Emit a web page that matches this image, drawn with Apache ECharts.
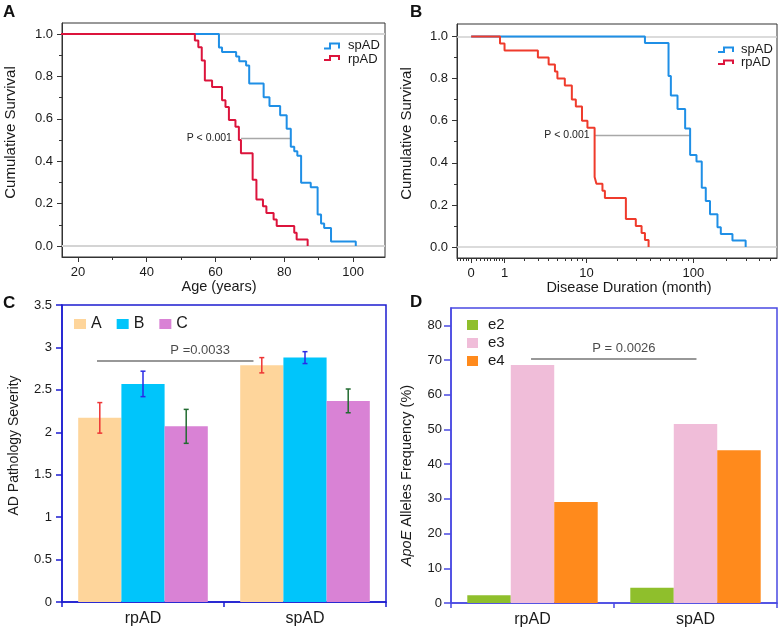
<!DOCTYPE html>
<html><head><meta charset="utf-8">
<script src="https://cdn.jsdelivr.net/npm/echarts@6/dist/echarts.min.js"></script>
<style>html,body{margin:0;padding:0;background:#fff}#c{width:778px;height:630px}</style>
</head><body><div id="c"></div>
<script>
// ---------- Panel A: survival by age ----------
const ageSpAD = [10, 61.0, 61.9, 66.0, 66.9, 68.9, 69.8, 74.0, 75.7, 78.8, 80.7, 81.9, 82.9, 83.8, 84.9, 87.7, 89.7, 90.7, 91.6, 93.6, 100.8];
const survAgeSpAD = [1, 0.936, 0.915, 0.894, 0.872, 0.851, 0.766, 0.702, 0.660, 0.617, 0.553, 0.468, 0.447, 0.426, 0.298, 0.277, 0.149, 0.106, 0.085, 0.021, 0];
const ageRpAD = [10, 54.0, 55.0, 56.0, 56.9, 59.0, 61.9, 62.9, 63.9, 65.8, 66.8, 67.4, 70.8, 71.9, 73.8, 74.8, 76.9, 77.8, 82.9, 83.6, 86.8];
const survAgeRpAD = [1, 0.969, 0.938, 0.875, 0.781, 0.750, 0.688, 0.656, 0.594, 0.5625, 0.5, 0.4375, 0.3125, 0.219, 0.1875, 0.156, 0.125, 0.094, 0.0625, 0.031, 0];
const ageTicks = [20, 40, 60, 80, 100];
const ageMinorTicks = [30, 50, 70, 90];
const survTicks = [0, 0.2, 0.4, 0.6, 0.8, 1.0];
const survMinorTicks = [0.1, 0.3, 0.5, 0.7, 0.9];
const pAgeLine = [67.4, 81.9, 0.508];

// ---------- Panel B: survival by disease duration (months) ----------
const durSpAD = [0, 36.0, 59.4, 62.4, 71.8, 84.3, 93.6, 107, 119.5, 130, 142, 166, 178, 227, 299];
const survDurSpAD = [1, 0.969, 0.8125, 0.719, 0.656, 0.5625, 0.4375, 0.406, 0.281, 0.219, 0.156, 0.094, 0.0625, 0.031, 0];
const durRpAD = [0, 0.82, 1.0, 3.0, 4.0, 4.7, 5.0, 6.0, 7.1, 7.8, 9.0, 10.2, 12.0, 12.5, 14.3, 15.1, 23.9, 29.6, 33.5, 36.0, 38.9];
const survDurRpAD = [1, 0.967, 0.933, 0.9, 0.867, 0.833, 0.8, 0.767, 0.7, 0.667, 0.6, 0.567, 0.333, 0.3, 0.267, 0.233, 0.133, 0.1, 0.067, 0.033, 0];
const durTicks = [0, 1, 10, 100];
const durMinorTicks = [-0.25, -0.2, -0.15, -0.1, -0.05, 0.1, 0.2, 0.3, 0.4, 0.5, 0.6, 0.7, 0.8, 0.9, 2, 3, 4, 5, 6, 7, 8, 9, 20, 30, 40, 50, 60, 70, 80, 90, 200, 300, 400, 500];
const pDurLine = [12.0, 93.6, 0.53];

// ---------- Panel C: AD pathology severity ----------
const groups = ['rpAD', 'spAD'];
const sevA = [2.17, 2.79];
const sevB = [2.57, 2.88];
const sevC = [2.07, 2.37];
const errA = [0.18, 0.09];
const errB = [0.15, 0.07];
const errC = [0.20, 0.14];
const sevTicks = [0, 0.5, 1, 1.5, 2, 2.5, 3, 3.5];

// ---------- Panel D: ApoE allele frequency ----------
const e2 = [2.2, 4.4];
const e3 = [68.6, 51.6];
const e4 = [29.1, 44.0];
const freqTicks = [0, 10, 20, 30, 40, 50, 60, 70, 80];

const FONT = "'Liberation Sans', Arial, Helvetica, sans-serif";
const TXT = '#1a1a1a';
const BLUE = '#1f8fe6', RED = '#dc143c', REDB = '#ef3b2c';
const FRAME_C = '#1c1cd0', FRAME_D = '#4a4ae2';
const tB = v => Math.log10(v + 1);
const pairs = (xs, ys, f) => xs.map((x, i) => [f ? f(x) : x, ys[i]]);

const chart = echarts.init(document.getElementById('c'), null, {renderer: 'canvas'});

function kmX(grid, min, max, major, minor, name, nameGap, namePad, fmt) {
  return [
    {gridIndex: grid, type: 'value', min, max, position: 'bottom',
     axisLine: {show: true, onZero: false, lineStyle: {color: '#333', width: 1}},
     axisTick: {show: true, customValues: major, length: 5, lineStyle: {color: '#333'}},
     axisLabel: {customValues: major, fontSize: 13, color: TXT, margin: 9, formatter: fmt},
     splitLine: {show: false},
     name, nameLocation: 'middle', nameGap, nameTextStyle: {fontSize: 14.5, color: TXT, padding: namePad}},
    {gridIndex: grid, type: 'value', min, max, position: 'bottom',
     axisLine: {show: false, onZero: false},
     axisTick: {show: true, customValues: minor, length: 3, lineStyle: {color: '#333'}},
     axisLabel: {show: false}, splitLine: {show: false}}
  ];
}
function kmY(grid, min, max, nameGap) {
  return [
    {gridIndex: grid, type: 'value', min, max, position: 'left',
     axisLine: {show: true, onZero: false, lineStyle: {color: '#333', width: 1}},
     axisTick: {show: true, customValues: survTicks, length: 5, lineStyle: {color: '#333'}},
     axisLabel: {customValues: survTicks, fontSize: 13, color: TXT, margin: 9, formatter: v => v.toFixed(1)},
     splitLine: {show: false},
     name: 'Cumulative Survival', nameLocation: 'middle', nameGap,
     nameTextStyle: {fontSize: 15, color: TXT, padding: [0, 0, 0, 15]}},
    {gridIndex: grid, type: 'value', min, max, position: 'left',
     axisLine: {show: false, onZero: false},
     axisTick: {show: true, customValues: survMinorTicks, length: 3, lineStyle: {color: '#333'}},
     axisLabel: {show: false}, splitLine: {show: false}}
  ];
}

const xAxes = [
  ...kmX(0, 15.35, 109.3, ageTicks, ageMinorTicks, 'Age (years)', 21, [0, 9, 0, 0]),
  ...kmX(1, -0.128, 2.76, durTicks.map(tB), durMinorTicks.map(tB), 'Disease Duration (month)', 20, [0, 0, 0, 24],
         v => String(Math.round(Math.pow(10, v) - 1))),
  {gridIndex: 2, type: 'category', data: groups,
   axisLine: {onZero: false, lineStyle: {color: FRAME_C, width: 1.5}},
   axisTick: {show: true, length: 5, lineStyle: {color: FRAME_C, width: 1.5}},
   axisLabel: {fontSize: 16, color: TXT, margin: 9}},
  {gridIndex: 2, type: 'value', min: 0, max: 2, show: false},
  {gridIndex: 3, type: 'category', data: groups,
   axisLine: {onZero: false, lineStyle: {color: FRAME_D, width: 1.5}},
   axisTick: {show: true, length: 5, lineStyle: {color: FRAME_D, width: 1.5}},
   axisLabel: {fontSize: 16, color: TXT, margin: 9}},
  {gridIndex: 3, type: 'value', min: 0, max: 2, show: false}
];
const yAxes = [
  ...kmY(0, -0.052, 1.052, 44),
  ...kmY(1, -0.052, 1.059, 43),
  {gridIndex: 2, type: 'value', min: 0, max: 3.5,
   axisLine: {show: true, onZero: false, lineStyle: {color: FRAME_C, width: 1.5}},
   axisTick: {show: true, customValues: sevTicks, length: 6, lineStyle: {color: FRAME_C, width: 1.5}},
   axisLabel: {customValues: sevTicks, fontSize: 13, color: TXT, margin: 10},
   splitLine: {show: false},
   name: 'AD Pathology Severity', nameLocation: 'middle', nameGap: 41,
   nameTextStyle: {fontSize: 14, color: TXT, padding: [0, 0, 0, 16]}},
  {gridIndex: 3, type: 'value', min: 0, max: 85,
   axisLine: {show: true, onZero: false, lineStyle: {color: FRAME_D, width: 1.5}},
   axisTick: {show: true, customValues: freqTicks, length: 7, lineStyle: {color: FRAME_D, width: 1.5}},
   axisLabel: {customValues: freqTicks, fontSize: 13, color: TXT, margin: 9},
   splitLine: {show: false},
   name: '{i|ApoE} Alleles Frequency (%)', nameLocation: 'middle', nameGap: 37,
   nameTextStyle: {fontSize: 14.5, color: TXT, padding: [0, 40, 0, 0],
                   rich: {i: {fontStyle: 'italic', fontSize: 14.5, color: TXT}}}}
];

function kmSeries(x, y, data, color, markLine) {
  return {type: 'line', xAxisIndex: x, yAxisIndex: y, data, step: 'end', showSymbol: false,
          lineStyle: {color, width: 2}, itemStyle: {color}, z: 3, silent: true, markLine};
}
const refLines = (c, w) => ({silent: true, symbol: ['none', 'none'], z: 1, label: {show: false},
  lineStyle: {color: c, width: w, type: 'solid'}, data: [{yAxis: 1}, {yAxis: 0}]});
const pLine = (p, text, dist) => ({silent: true, symbol: ['none', 'none'], z: 1,
  lineStyle: {color: '#a8a8a8', width: 1.3, type: 'solid'},
  label: {show: true, position: 'start', formatter: text, fontSize: 10.5, color: '#222', distance: dist},
  data: [[{coord: [p[0], p[2]]}, {coord: [p[1], p[2]]}]]});

function errSeries(means, errs, k, color) {
  return {type: 'custom', xAxisIndex: 4, yAxisIndex: 4, z: 4, silent: true,
    data: means.map((m, i) => [i, m, errs[i]]),
    renderItem: (params, api) => {
      const i = api.value(0), m = api.value(1), e = api.value(2);
      const band = api.size([1, 0])[0];
      const c = api.coord([i, m]);
      const x = c[0] + (k - 1) * band * 0.8 / 3;
      const yt = api.coord([i, m + e])[1], yb = api.coord([i, m - e])[1];
      const st = {stroke: color, lineWidth: 1.5};
      return {type: 'group', children: [
        {type: 'line', shape: {x1: x, y1: yt, x2: x, y2: yb}, style: st},
        {type: 'line', shape: {x1: x - 2.5, y1: yt, x2: x + 2.5, y2: yt}, style: st},
        {type: 'line', shape: {x1: x - 2.5, y1: yb, x2: x + 2.5, y2: yb}, style: st}
      ]};
    }};
}
function barSeries(name, data, color, x, y) {
  return {type: 'bar', name, data, xAxisIndex: x, yAxisIndex: y, barGap: '0%', barCategoryGap: '20%',
          itemStyle: {color}, silent: true, z: 2};
}
function pText(x, y, text, xp, yp) {
  return {type: 'scatter', xAxisIndex: x, yAxisIndex: y, data: [[xp, yp]], symbolSize: 1, silent: true,
          itemStyle: {color: 'rgba(0,0,0,0)'},
          label: {show: true, position: 'inside', formatter: text, fontSize: 13, color: TXT}};
}
function pBar(x, y, x1, x2, v) {
  return {type: 'line', xAxisIndex: x, yAxisIndex: y, data: [[x1, v], [x2, v]], showSymbol: false, silent: true,
          lineStyle: {color: '#333', width: 1.2}, z: 3};
}

const series = [
  kmSeries(0, 0, pairs(ageSpAD, survAgeSpAD), BLUE, refLines('#d4d4d4', 2)),
  kmSeries(0, 0, pairs(ageRpAD, survAgeRpAD), RED, pLine(pAgeLine, 'P < 0.001', 9)),
  kmSeries(2, 2, pairs(durSpAD, survDurSpAD, tB), BLUE, refLines('#cfcfcf', 1.5)),
  kmSeries(2, 2, pairs(durRpAD, survDurRpAD, tB), REDB, pLine([tB(pDurLine[0]), tB(pDurLine[1]), pDurLine[2]], 'P < 0.001', 5)),
  barSeries('A', sevA, '#fed59b', 4, 4),
  barSeries('B', sevB, '#00c5fb', 4, 4),
  barSeries('C', sevC, '#d982d5', 4, 4),
  errSeries(sevA, errA, 0, '#ee3535'),
  errSeries(sevB, errB, 1, '#2a2ae6'),
  errSeries(sevC, errC, 2, '#216b30'),
  pBar(5, 4, 0.216, 1.182, 2.84),
  pText(5, 4, 'P =0.0033', 0.853, 2.965),
  barSeries('e2', e2, '#8fbf2c', 6, 5),
  barSeries('e3', e3, '#f0bdd9', 6, 5),
  barSeries('e4', e4, '#ff8a1c', 6, 5),
  pBar(7, 5, 0.491, 1.506, 70.3),
  pText(7, 5, 'P = 0.0026', 1.061, 73.4)
];

const letter = (t, x, y) => ({type: 'text', silent: true, style: {x, y, text: t, fill: '#111',
  font: "bold 17px 'Liberation Sans', Arial, sans-serif", verticalAlign: 'middle'}});
const kmIcon = (x, yLow, yHigh, color) => ({type: 'polyline', silent: true,
  shape: {points: [[x, yLow], [x + 6, yLow], [x + 6, yHigh], [x + 15, yHigh], [x + 15, yLow]]},
  style: {stroke: color, lineWidth: 2, fill: null}});
const lgText = (t, x, y) => ({type: 'text', silent: true, style: {x, y, text: t, fill: TXT,
  font: "13px 'Liberation Sans', Arial, sans-serif", verticalAlign: 'middle'}});

chart.setOption({
  animation: false,
  backgroundColor: '#fff',
  textStyle: {fontFamily: FONT},
  grid: [
    {left: 62, top: 23, width: 323, height: 234, show: true, borderColor: '#333', borderWidth: 1},
    {left: 457, top: 24, width: 320, height: 234, show: true, borderColor: '#333', borderWidth: 1},
    {left: 62, top: 305, width: 324, height: 297, show: true, borderColor: FRAME_C, borderWidth: 1.5},
    {left: 451, top: 308, width: 326, height: 295, show: true, borderColor: FRAME_D, borderWidth: 1.5}
  ],
  xAxis: xAxes,
  yAxis: yAxes,
  legend: [
    {data: ['A', 'B', 'C'], left: 74, top: 316, orient: 'horizontal', itemWidth: 12, itemHeight: 10,
     itemGap: 15, icon: 'rect', padding: 0, selectedMode: false,
     textStyle: {fontSize: 16, color: TXT}},
    {data: ['e2', 'e3', 'e4'], left: 467, top: 317, orient: 'vertical', itemWidth: 11, itemHeight: 10,
     itemGap: 2, icon: 'rect', padding: 0, selectedMode: false,
     textStyle: {fontSize: 15, lineHeight: 16, color: TXT, padding: [0, 0, 0, 5]}}
  ],
  graphic: [
    letter('A', 3, 12), letter('B', 410, 12), letter('C', 3, 303), letter('D', 410, 302),
    kmIcon(324, 48.5, 43.5, BLUE), lgText('spAD', 348, 45),
    kmIcon(324, 60, 56, RED), lgText('rpAD', 348, 59),
    kmIcon(718, 52, 47.5, BLUE), lgText('spAD', 741, 49),
    kmIcon(718, 64, 60.5, RED), lgText('rpAD', 741, 62)
  ],
  series
});
</script></body></html>
